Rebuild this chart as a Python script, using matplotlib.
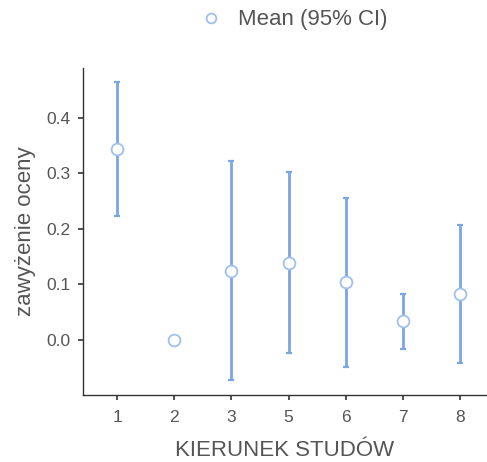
import matplotlib
matplotlib.use("Agg")
import matplotlib.pyplot as plt
import numpy as np
from matplotlib.lines import Line2D

plt.rcParams['font.family'] = ['Liberation Sans', 'DejaVu Sans']

categories = ['1', '2', '3', '5', '6', '7', '8']
means = [0.344, 0.0, 0.124, 0.139, 0.105, 0.034, 0.083]
lower = [0.223, np.nan, -0.072, -0.024, -0.048, -0.016, -0.041]
upper = [0.465, np.nan, 0.322, 0.303, 0.256, 0.083, 0.207]

fig = plt.figure(figsize=(4.87, 4.62), dpi=100)
ax = fig.add_axes([0.1704, 0.145, 0.828, 0.708])

x = np.arange(len(categories))
m = np.array(means)
lo = np.array(lower)
hi = np.array(upper)
err = np.vstack([m - lo, hi - m])
err = np.nan_to_num(err, nan=0.0)
has = ~np.isnan(lo)

line_col = '#7aa6e6'
ax.errorbar(x[has], m[has], yerr=err[:, has], fmt='none', ecolor=line_col,
            elinewidth=2.0, capsize=2.5, capthick=1.6, zorder=2)
ax.plot(x, m, 'o', markersize=8.5, markerfacecolor='white',
        markeredgecolor='#9fc0ee', markeredgewidth=1.3, linestyle='none', zorder=3)

ax.set_xlim(-0.6, 6.46)
ax.set_ylim(-0.099, 0.49)
ax.set_xticks(x)
ax.set_xticklabels(categories)
ax.set_yticks([0.0, 0.1, 0.2, 0.3, 0.4])
ax.set_yticklabels(['0.0', '0.1', '0.2', '0.3', '0.4'])

for s in ['top', 'right']:
    ax.spines[s].set_visible(False)
for s in ['left', 'bottom']:
    ax.spines[s].set_color('#333333')
    ax.spines[s].set_linewidth(1.0)
ax.tick_params(axis='both', colors='#333333', labelcolor='#555555',
               labelsize=12.5, length=3.5, width=1.2)
ax.tick_params(axis='x', pad=7)
ax.tick_params(axis='y', pad=5.5)

ax.set_xlabel('KIERUNEK STUDÓW', fontsize=16, color='#555555', labelpad=11)
ax.set_ylabel('zawyżenie oceny', fontsize=16, color='#555555', labelpad=7.5)

handle = Line2D([], [], marker='o', linestyle='none', markersize=7,
                markerfacecolor='white', markeredgecolor='#9fc0ee', markeredgewidth=1.3)
fig.legend([handle], ['Mean (95% CI)'], loc='center', bbox_to_anchor=(0.592, 0.957),
           frameon=False, fontsize=16, handletextpad=0.2,
           labelcolor='#555555')

fig.savefig('out.png', dpi=100, facecolor='white')
